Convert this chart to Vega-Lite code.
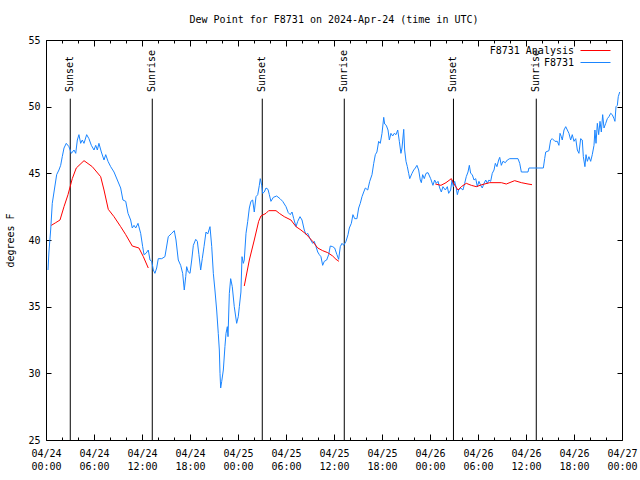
{
  "$schema": "https://vega.github.io/schema/vega-lite/v6.json",
  "width": 576,
  "height": 400,
  "autosize": {"type": "none"},
  "padding": {"left": 46, "top": 40, "right": 18, "bottom": 40},
  "background": "white",
  "title": {"text": "Dew Point for F8731 on 2024-Apr-24 (time in UTC)", "font": "DejaVu Sans Mono", "fontSize": 10, "fontWeight": "normal", "color": "black", "anchor": "middle", "offset": 10},
  "datasets": {
    "obs": [
      {"t": "2024-04-24T00:15Z", "v": 37.75, "s": "F8731", "g": "b"},
      {"t": "2024-04-24T00:22Z", "v": 39.1, "s": "F8731", "g": "b"},
      {"t": "2024-04-24T00:35Z", "v": 40.75, "s": "F8731", "g": "b"},
      {"t": "2024-04-24T00:47Z", "v": 42.75, "s": "F8731", "g": "b"},
      {"t": "2024-04-24T01:00Z", "v": 43.6, "s": "F8731", "g": "b"},
      {"t": "2024-04-24T01:20Z", "v": 44.9, "s": "F8731", "g": "b"},
      {"t": "2024-04-24T01:37Z", "v": 45.25, "s": "F8731", "g": "b"},
      {"t": "2024-04-24T01:50Z", "v": 45.6, "s": "F8731", "g": "b"},
      {"t": "2024-04-24T02:02Z", "v": 46.25, "s": "F8731", "g": "b"},
      {"t": "2024-04-24T02:15Z", "v": 46.9, "s": "F8731", "g": "b"},
      {"t": "2024-04-24T02:32Z", "v": 47.25, "s": "F8731", "g": "b"},
      {"t": "2024-04-24T02:52Z", "v": 47.0, "s": "F8731", "g": "b"},
      {"t": "2024-04-24T03:10Z", "v": 46.5, "s": "F8731", "g": "b"},
      {"t": "2024-04-24T03:30Z", "v": 46.75, "s": "F8731", "g": "b"},
      {"t": "2024-04-24T03:43Z", "v": 46.5, "s": "F8731", "g": "b"},
      {"t": "2024-04-24T03:55Z", "v": 47.5, "s": "F8731", "g": "b"},
      {"t": "2024-04-24T04:07Z", "v": 47.9, "s": "F8731", "g": "b"},
      {"t": "2024-04-24T04:20Z", "v": 47.25, "s": "F8731", "g": "b"},
      {"t": "2024-04-24T04:32Z", "v": 47.5, "s": "F8731", "g": "b"},
      {"t": "2024-04-24T04:45Z", "v": 47.25, "s": "F8731", "g": "b"},
      {"t": "2024-04-24T05:05Z", "v": 47.9, "s": "F8731", "g": "b"},
      {"t": "2024-04-24T05:22Z", "v": 47.6, "s": "F8731", "g": "b"},
      {"t": "2024-04-24T05:40Z", "v": 47.1, "s": "F8731", "g": "b"},
      {"t": "2024-04-24T06:00Z", "v": 46.75, "s": "F8731", "g": "b"},
      {"t": "2024-04-24T06:13Z", "v": 47.1, "s": "F8731", "g": "b"},
      {"t": "2024-04-24T06:25Z", "v": 46.75, "s": "F8731", "g": "b"},
      {"t": "2024-04-24T06:37Z", "v": 47.25, "s": "F8731", "g": "b"},
      {"t": "2024-04-24T06:55Z", "v": 46.6, "s": "F8731", "g": "b"},
      {"t": "2024-04-24T07:15Z", "v": 46.0, "s": "F8731", "g": "b"},
      {"t": "2024-04-24T07:28Z", "v": 46.4, "s": "F8731", "g": "b"},
      {"t": "2024-04-24T07:45Z", "v": 45.9, "s": "F8731", "g": "b"},
      {"t": "2024-04-24T08:05Z", "v": 45.5, "s": "F8731", "g": "b"},
      {"t": "2024-04-24T08:30Z", "v": 45.1, "s": "F8731", "g": "b"},
      {"t": "2024-04-24T08:55Z", "v": 44.5, "s": "F8731", "g": "b"},
      {"t": "2024-04-24T09:20Z", "v": 43.9, "s": "F8731", "g": "b"},
      {"t": "2024-04-24T09:37Z", "v": 43.0, "s": "F8731", "g": "b"},
      {"t": "2024-04-24T09:58Z", "v": 42.9, "s": "F8731", "g": "b"},
      {"t": "2024-04-24T10:15Z", "v": 42.0, "s": "F8731", "g": "b"},
      {"t": "2024-04-24T10:35Z", "v": 41.5, "s": "F8731", "g": "b"},
      {"t": "2024-04-24T10:47Z", "v": 40.9, "s": "F8731", "g": "b"},
      {"t": "2024-04-24T11:00Z", "v": 41.1, "s": "F8731", "g": "b"},
      {"t": "2024-04-24T11:13Z", "v": 40.9, "s": "F8731", "g": "b"},
      {"t": "2024-04-24T11:30Z", "v": 41.25, "s": "F8731", "g": "b"},
      {"t": "2024-04-24T11:50Z", "v": 40.5, "s": "F8731", "g": "b"},
      {"t": "2024-04-24T12:05Z", "v": 39.5, "s": "F8731", "g": "b"},
      {"t": "2024-04-24T12:15Z", "v": 38.9, "s": "F8731", "g": "b"},
      {"t": "2024-04-24T12:30Z", "v": 39.0, "s": "F8731", "g": "b"},
      {"t": "2024-04-24T12:47Z", "v": 39.25, "s": "F8731", "g": "b"},
      {"t": "2024-04-24T13:00Z", "v": 38.5, "s": "F8731", "g": "b"},
      {"t": "2024-04-24T13:13Z", "v": 38.4, "s": "F8731", "g": "b"},
      {"t": "2024-04-24T13:25Z", "v": 37.75, "s": "F8731", "g": "b"},
      {"t": "2024-04-24T13:37Z", "v": 37.5, "s": "F8731", "g": "b"},
      {"t": "2024-04-24T13:50Z", "v": 37.9, "s": "F8731", "g": "b"},
      {"t": "2024-04-24T14:02Z", "v": 38.6, "s": "F8731", "g": "b"},
      {"t": "2024-04-24T14:28Z", "v": 38.6, "s": "F8731", "g": "b"},
      {"t": "2024-04-24T14:52Z", "v": 38.75, "s": "F8731", "g": "b"},
      {"t": "2024-04-24T15:17Z", "v": 40.25, "s": "F8731", "g": "b"},
      {"t": "2024-04-24T15:43Z", "v": 40.5, "s": "F8731", "g": "b"},
      {"t": "2024-04-24T16:02Z", "v": 40.7, "s": "F8731", "g": "b"},
      {"t": "2024-04-24T16:15Z", "v": 40.0, "s": "F8731", "g": "b"},
      {"t": "2024-04-24T16:32Z", "v": 38.5, "s": "F8731", "g": "b"},
      {"t": "2024-04-24T16:50Z", "v": 38.1, "s": "F8731", "g": "b"},
      {"t": "2024-04-24T17:05Z", "v": 37.5, "s": "F8731", "g": "b"},
      {"t": "2024-04-24T17:17Z", "v": 36.25, "s": "F8731", "g": "b"},
      {"t": "2024-04-24T17:28Z", "v": 37.25, "s": "F8731", "g": "b"},
      {"t": "2024-04-24T17:35Z", "v": 38.0, "s": "F8731", "g": "b"},
      {"t": "2024-04-24T17:47Z", "v": 37.6, "s": "F8731", "g": "b"},
      {"t": "2024-04-24T18:00Z", "v": 37.5, "s": "F8731", "g": "b"},
      {"t": "2024-04-24T18:13Z", "v": 38.5, "s": "F8731", "g": "b"},
      {"t": "2024-04-24T18:25Z", "v": 39.6, "s": "F8731", "g": "b"},
      {"t": "2024-04-24T18:43Z", "v": 40.05, "s": "F8731", "g": "b"},
      {"t": "2024-04-24T18:55Z", "v": 39.9, "s": "F8731", "g": "b"},
      {"t": "2024-04-24T19:07Z", "v": 38.9, "s": "F8731", "g": "b"},
      {"t": "2024-04-24T19:20Z", "v": 37.75, "s": "F8731", "g": "b"},
      {"t": "2024-04-24T19:32Z", "v": 38.6, "s": "F8731", "g": "b"},
      {"t": "2024-04-24T19:45Z", "v": 39.5, "s": "F8731", "g": "b"},
      {"t": "2024-04-24T20:00Z", "v": 40.6, "s": "F8731", "g": "b"},
      {"t": "2024-04-24T20:13Z", "v": 40.45, "s": "F8731", "g": "b"},
      {"t": "2024-04-24T20:30Z", "v": 41.0, "s": "F8731", "g": "b"},
      {"t": "2024-04-24T20:43Z", "v": 39.5, "s": "F8731", "g": "b"},
      {"t": "2024-04-24T20:55Z", "v": 37.5, "s": "F8731", "g": "b"},
      {"t": "2024-04-24T21:07Z", "v": 36.25, "s": "F8731", "g": "b"},
      {"t": "2024-04-24T21:20Z", "v": 34.75, "s": "F8731", "g": "b"},
      {"t": "2024-04-24T21:32Z", "v": 33.0, "s": "F8731", "g": "b"},
      {"t": "2024-04-24T21:40Z", "v": 31.75, "s": "F8731", "g": "b"},
      {"t": "2024-04-24T21:45Z", "v": 30.0, "s": "F8731", "g": "b"},
      {"t": "2024-04-24T21:50Z", "v": 28.9, "s": "F8731", "g": "b"},
      {"t": "2024-04-24T21:58Z", "v": 29.4, "s": "F8731", "g": "b"},
      {"t": "2024-04-24T22:10Z", "v": 30.25, "s": "F8731", "g": "b"},
      {"t": "2024-04-24T22:22Z", "v": 32.0, "s": "F8731", "g": "b"},
      {"t": "2024-04-24T22:30Z", "v": 33.0, "s": "F8731", "g": "b"},
      {"t": "2024-04-24T22:40Z", "v": 33.5, "s": "F8731", "g": "b"},
      {"t": "2024-04-24T22:45Z", "v": 32.75, "s": "F8731", "g": "b"},
      {"t": "2024-04-24T22:55Z", "v": 36.0, "s": "F8731", "g": "b"},
      {"t": "2024-04-24T23:05Z", "v": 37.1, "s": "F8731", "g": "b"},
      {"t": "2024-04-24T23:17Z", "v": 36.5, "s": "F8731", "g": "b"},
      {"t": "2024-04-24T23:32Z", "v": 35.0, "s": "F8731", "g": "b"},
      {"t": "2024-04-24T23:50Z", "v": 33.75, "s": "F8731", "g": "b"},
      {"t": "2024-04-25T00:02Z", "v": 34.25, "s": "F8731", "g": "b"},
      {"t": "2024-04-25T00:10Z", "v": 35.0, "s": "F8731", "g": "b"},
      {"t": "2024-04-25T00:22Z", "v": 36.1, "s": "F8731", "g": "b"},
      {"t": "2024-04-25T00:30Z", "v": 38.75, "s": "F8731", "g": "b"},
      {"t": "2024-04-25T00:40Z", "v": 38.25, "s": "F8731", "g": "b"},
      {"t": "2024-04-25T00:47Z", "v": 38.5, "s": "F8731", "g": "b"},
      {"t": "2024-04-25T01:00Z", "v": 40.5, "s": "F8731", "g": "b"},
      {"t": "2024-04-25T01:13Z", "v": 41.4, "s": "F8731", "g": "b"},
      {"t": "2024-04-25T01:25Z", "v": 42.4, "s": "F8731", "g": "b"},
      {"t": "2024-04-25T01:37Z", "v": 42.9, "s": "F8731", "g": "b"},
      {"t": "2024-04-25T01:50Z", "v": 43.0, "s": "F8731", "g": "b"},
      {"t": "2024-04-25T02:02Z", "v": 42.1, "s": "F8731", "g": "b"},
      {"t": "2024-04-25T02:15Z", "v": 43.25, "s": "F8731", "g": "b"},
      {"t": "2024-04-25T02:28Z", "v": 43.4, "s": "F8731", "g": "b"},
      {"t": "2024-04-25T02:40Z", "v": 44.1, "s": "F8731", "g": "b"},
      {"t": "2024-04-25T02:47Z", "v": 44.6, "s": "F8731", "g": "b"},
      {"t": "2024-04-25T02:58Z", "v": 44.1, "s": "F8731", "g": "b"},
      {"t": "2024-04-25T03:05Z", "v": 43.5, "s": "F8731", "g": "b"},
      {"t": "2024-04-25T03:17Z", "v": 43.6, "s": "F8731", "g": "b"},
      {"t": "2024-04-25T03:30Z", "v": 43.9, "s": "F8731", "g": "b"},
      {"t": "2024-04-25T03:45Z", "v": 43.8, "s": "F8731", "g": "b"},
      {"t": "2024-04-25T03:55Z", "v": 43.4, "s": "F8731", "g": "b"},
      {"t": "2024-04-25T04:07Z", "v": 42.9, "s": "F8731", "g": "b"},
      {"t": "2024-04-25T04:25Z", "v": 43.2, "s": "F8731", "g": "b"},
      {"t": "2024-04-25T04:50Z", "v": 43.3, "s": "F8731", "g": "b"},
      {"t": "2024-04-25T05:15Z", "v": 43.1, "s": "F8731", "g": "b"},
      {"t": "2024-04-25T05:35Z", "v": 42.9, "s": "F8731", "g": "b"},
      {"t": "2024-04-25T06:00Z", "v": 42.5, "s": "F8731", "g": "b"},
      {"t": "2024-04-25T06:17Z", "v": 42.05, "s": "F8731", "g": "b"},
      {"t": "2024-04-25T06:32Z", "v": 41.9, "s": "F8731", "g": "b"},
      {"t": "2024-04-25T06:45Z", "v": 42.1, "s": "F8731", "g": "b"},
      {"t": "2024-04-25T06:58Z", "v": 41.6, "s": "F8731", "g": "b"},
      {"t": "2024-04-25T07:15Z", "v": 41.0, "s": "F8731", "g": "b"},
      {"t": "2024-04-25T07:28Z", "v": 41.4, "s": "F8731", "g": "b"},
      {"t": "2024-04-25T07:45Z", "v": 41.75, "s": "F8731", "g": "b"},
      {"t": "2024-04-25T08:00Z", "v": 41.5, "s": "F8731", "g": "b"},
      {"t": "2024-04-25T08:17Z", "v": 40.75, "s": "F8731", "g": "b"},
      {"t": "2024-04-25T08:30Z", "v": 40.4, "s": "F8731", "g": "b"},
      {"t": "2024-04-25T08:43Z", "v": 40.5, "s": "F8731", "g": "b"},
      {"t": "2024-04-25T09:00Z", "v": 40.1, "s": "F8731", "g": "b"},
      {"t": "2024-04-25T09:20Z", "v": 39.75, "s": "F8731", "g": "b"},
      {"t": "2024-04-25T09:32Z", "v": 39.9, "s": "F8731", "g": "b"},
      {"t": "2024-04-25T09:45Z", "v": 39.5, "s": "F8731", "g": "b"},
      {"t": "2024-04-25T09:58Z", "v": 39.1, "s": "F8731", "g": "b"},
      {"t": "2024-04-25T10:10Z", "v": 38.9, "s": "F8731", "g": "b"},
      {"t": "2024-04-25T10:22Z", "v": 38.75, "s": "F8731", "g": "b"},
      {"t": "2024-04-25T10:35Z", "v": 38.1, "s": "F8731", "g": "b"},
      {"t": "2024-04-25T10:47Z", "v": 38.4, "s": "F8731", "g": "b"},
      {"t": "2024-04-25T11:05Z", "v": 38.5, "s": "F8731", "g": "b"},
      {"t": "2024-04-25T11:20Z", "v": 38.9, "s": "F8731", "g": "b"},
      {"t": "2024-04-25T11:32Z", "v": 39.55, "s": "F8731", "g": "b"},
      {"t": "2024-04-25T11:50Z", "v": 39.5, "s": "F8731", "g": "b"},
      {"t": "2024-04-25T12:05Z", "v": 39.4, "s": "F8731", "g": "b"},
      {"t": "2024-04-25T12:22Z", "v": 38.9, "s": "F8731", "g": "b"},
      {"t": "2024-04-25T12:35Z", "v": 38.55, "s": "F8731", "g": "b"},
      {"t": "2024-04-25T12:47Z", "v": 39.5, "s": "F8731", "g": "b"},
      {"t": "2024-04-25T13:00Z", "v": 39.75, "s": "F8731", "g": "b"},
      {"t": "2024-04-25T13:13Z", "v": 39.6, "s": "F8731", "g": "b"},
      {"t": "2024-04-25T13:30Z", "v": 39.9, "s": "F8731", "g": "b"},
      {"t": "2024-04-25T13:45Z", "v": 40.4, "s": "F8731", "g": "b"},
      {"t": "2024-04-25T13:55Z", "v": 40.9, "s": "F8731", "g": "b"},
      {"t": "2024-04-25T14:10Z", "v": 41.25, "s": "F8731", "g": "b"},
      {"t": "2024-04-25T14:22Z", "v": 41.9, "s": "F8731", "g": "b"},
      {"t": "2024-04-25T14:35Z", "v": 41.6, "s": "F8731", "g": "b"},
      {"t": "2024-04-25T14:52Z", "v": 41.6, "s": "F8731", "g": "b"},
      {"t": "2024-04-25T15:05Z", "v": 42.4, "s": "F8731", "g": "b"},
      {"t": "2024-04-25T15:17Z", "v": 42.75, "s": "F8731", "g": "b"},
      {"t": "2024-04-25T15:30Z", "v": 43.25, "s": "F8731", "g": "b"},
      {"t": "2024-04-25T15:43Z", "v": 43.6, "s": "F8731", "g": "b"},
      {"t": "2024-04-25T15:55Z", "v": 43.9, "s": "F8731", "g": "b"},
      {"t": "2024-04-25T16:13Z", "v": 43.75, "s": "F8731", "g": "b"},
      {"t": "2024-04-25T16:28Z", "v": 44.4, "s": "F8731", "g": "b"},
      {"t": "2024-04-25T16:45Z", "v": 44.9, "s": "F8731", "g": "b"},
      {"t": "2024-04-25T16:58Z", "v": 45.75, "s": "F8731", "g": "b"},
      {"t": "2024-04-25T17:10Z", "v": 46.4, "s": "F8731", "g": "b"},
      {"t": "2024-04-25T17:22Z", "v": 46.6, "s": "F8731", "g": "b"},
      {"t": "2024-04-25T17:35Z", "v": 47.4, "s": "F8731", "g": "b"},
      {"t": "2024-04-25T17:47Z", "v": 47.25, "s": "F8731", "g": "b"},
      {"t": "2024-04-25T18:00Z", "v": 48.0, "s": "F8731", "g": "b"},
      {"t": "2024-04-25T18:13Z", "v": 49.2, "s": "F8731", "g": "b"},
      {"t": "2024-04-25T18:20Z", "v": 48.7, "s": "F8731", "g": "b"},
      {"t": "2024-04-25T18:32Z", "v": 48.6, "s": "F8731", "g": "b"},
      {"t": "2024-04-25T18:45Z", "v": 48.25, "s": "F8731", "g": "b"},
      {"t": "2024-04-25T18:55Z", "v": 47.5, "s": "F8731", "g": "b"},
      {"t": "2024-04-25T19:07Z", "v": 48.0, "s": "F8731", "g": "b"},
      {"t": "2024-04-25T19:20Z", "v": 47.8, "s": "F8731", "g": "b"},
      {"t": "2024-04-25T19:32Z", "v": 48.0, "s": "F8731", "g": "b"},
      {"t": "2024-04-25T19:45Z", "v": 47.9, "s": "F8731", "g": "b"},
      {"t": "2024-04-25T19:58Z", "v": 48.25, "s": "F8731", "g": "b"},
      {"t": "2024-04-25T20:10Z", "v": 47.4, "s": "F8731", "g": "b"},
      {"t": "2024-04-25T20:22Z", "v": 46.5, "s": "F8731", "g": "b"},
      {"t": "2024-04-25T20:30Z", "v": 46.9, "s": "F8731", "g": "b"},
      {"t": "2024-04-25T20:43Z", "v": 48.3, "s": "F8731", "g": "b"},
      {"t": "2024-04-25T20:50Z", "v": 46.75, "s": "F8731", "g": "b"},
      {"t": "2024-04-25T21:00Z", "v": 45.9, "s": "F8731", "g": "b"},
      {"t": "2024-04-25T21:10Z", "v": 45.5, "s": "F8731", "g": "b"},
      {"t": "2024-04-25T21:20Z", "v": 45.0, "s": "F8731", "g": "b"},
      {"t": "2024-04-25T21:28Z", "v": 44.6, "s": "F8731", "g": "b"},
      {"t": "2024-04-25T21:45Z", "v": 45.0, "s": "F8731", "g": "b"},
      {"t": "2024-04-25T21:58Z", "v": 45.25, "s": "F8731", "g": "b"},
      {"t": "2024-04-25T22:10Z", "v": 45.4, "s": "F8731", "g": "b"},
      {"t": "2024-04-25T22:22Z", "v": 45.6, "s": "F8731", "g": "b"},
      {"t": "2024-04-25T22:35Z", "v": 45.25, "s": "F8731", "g": "b"},
      {"t": "2024-04-25T22:47Z", "v": 44.5, "s": "F8731", "g": "b"},
      {"t": "2024-04-25T22:55Z", "v": 44.3, "s": "F8731", "g": "b"},
      {"t": "2024-04-25T23:05Z", "v": 44.9, "s": "F8731", "g": "b"},
      {"t": "2024-04-25T23:17Z", "v": 44.6, "s": "F8731", "g": "b"},
      {"t": "2024-04-25T23:30Z", "v": 45.0, "s": "F8731", "g": "b"},
      {"t": "2024-04-25T23:45Z", "v": 45.05, "s": "F8731", "g": "b"},
      {"t": "2024-04-26T00:05Z", "v": 44.6, "s": "F8731", "g": "b"},
      {"t": "2024-04-26T00:22Z", "v": 44.1, "s": "F8731", "g": "b"},
      {"t": "2024-04-26T00:35Z", "v": 44.5, "s": "F8731", "g": "b"},
      {"t": "2024-04-26T00:47Z", "v": 44.25, "s": "F8731", "g": "b"},
      {"t": "2024-04-26T01:00Z", "v": 44.4, "s": "F8731", "g": "b"},
      {"t": "2024-04-26T01:13Z", "v": 43.9, "s": "F8731", "g": "b"},
      {"t": "2024-04-26T01:25Z", "v": 43.6, "s": "F8731", "g": "b"},
      {"t": "2024-04-26T01:37Z", "v": 44.0, "s": "F8731", "g": "b"},
      {"t": "2024-04-26T01:55Z", "v": 43.75, "s": "F8731", "g": "b"},
      {"t": "2024-04-26T02:10Z", "v": 44.0, "s": "F8731", "g": "b"},
      {"t": "2024-04-26T02:20Z", "v": 43.5, "s": "F8731", "g": "b"},
      {"t": "2024-04-26T02:35Z", "v": 43.75, "s": "F8731", "g": "b"},
      {"t": "2024-04-26T02:45Z", "v": 44.5, "s": "F8731", "g": "b"},
      {"t": "2024-04-26T02:55Z", "v": 44.0, "s": "F8731", "g": "b"},
      {"t": "2024-04-26T03:05Z", "v": 44.4, "s": "F8731", "g": "b"},
      {"t": "2024-04-26T03:17Z", "v": 43.9, "s": "F8731", "g": "b"},
      {"t": "2024-04-26T03:25Z", "v": 43.4, "s": "F8731", "g": "b"},
      {"t": "2024-04-26T03:35Z", "v": 43.75, "s": "F8731", "g": "b"},
      {"t": "2024-04-26T03:50Z", "v": 43.9, "s": "F8731", "g": "b"},
      {"t": "2024-04-26T04:07Z", "v": 43.75, "s": "F8731", "g": "b"},
      {"t": "2024-04-26T04:20Z", "v": 44.25, "s": "F8731", "g": "b"},
      {"t": "2024-04-26T04:32Z", "v": 44.75, "s": "F8731", "g": "b"},
      {"t": "2024-04-26T04:45Z", "v": 45.1, "s": "F8731", "g": "b"},
      {"t": "2024-04-26T04:55Z", "v": 45.6, "s": "F8731", "g": "b"},
      {"t": "2024-04-26T05:05Z", "v": 45.0, "s": "F8731", "g": "b"},
      {"t": "2024-04-26T05:17Z", "v": 44.9, "s": "F8731", "g": "b"},
      {"t": "2024-04-26T05:30Z", "v": 44.5, "s": "F8731", "g": "b"},
      {"t": "2024-04-26T05:43Z", "v": 44.6, "s": "F8731", "g": "b"},
      {"t": "2024-04-26T05:55Z", "v": 44.0, "s": "F8731", "g": "b"},
      {"t": "2024-04-26T06:07Z", "v": 44.4, "s": "F8731", "g": "b"},
      {"t": "2024-04-26T06:20Z", "v": 44.1, "s": "F8731", "g": "b"},
      {"t": "2024-04-26T06:32Z", "v": 43.9, "s": "F8731", "g": "b"},
      {"t": "2024-04-26T06:45Z", "v": 44.25, "s": "F8731", "g": "b"},
      {"t": "2024-04-26T06:58Z", "v": 44.5, "s": "F8731", "g": "b"},
      {"t": "2024-04-26T07:10Z", "v": 44.25, "s": "F8731", "g": "b"},
      {"t": "2024-04-26T07:22Z", "v": 44.5, "s": "F8731", "g": "b"},
      {"t": "2024-04-26T07:35Z", "v": 44.4, "s": "F8731", "g": "b"},
      {"t": "2024-04-26T07:47Z", "v": 45.0, "s": "F8731", "g": "b"},
      {"t": "2024-04-26T08:00Z", "v": 45.25, "s": "F8731", "g": "b"},
      {"t": "2024-04-26T08:10Z", "v": 45.75, "s": "F8731", "g": "b"},
      {"t": "2024-04-26T08:22Z", "v": 45.5, "s": "F8731", "g": "b"},
      {"t": "2024-04-26T08:35Z", "v": 46.0, "s": "F8731", "g": "b"},
      {"t": "2024-04-26T08:43Z", "v": 46.2, "s": "F8731", "g": "b"},
      {"t": "2024-04-26T08:55Z", "v": 45.6, "s": "F8731", "g": "b"},
      {"t": "2024-04-26T09:07Z", "v": 45.9, "s": "F8731", "g": "b"},
      {"t": "2024-04-26T09:25Z", "v": 45.8, "s": "F8731", "g": "b"},
      {"t": "2024-04-26T09:40Z", "v": 46.0, "s": "F8731", "g": "b"},
      {"t": "2024-04-26T09:58Z", "v": 46.1, "s": "F8731", "g": "b"},
      {"t": "2024-04-26T11:00Z", "v": 46.1, "s": "F8731", "g": "b"},
      {"t": "2024-04-26T11:13Z", "v": 45.75, "s": "F8731", "g": "b"},
      {"t": "2024-04-26T11:25Z", "v": 45.1, "s": "F8731", "g": "b"},
      {"t": "2024-04-26T12:15Z", "v": 45.1, "s": "F8731", "g": "b"},
      {"t": "2024-04-26T12:22Z", "v": 45.4, "s": "F8731", "g": "b"},
      {"t": "2024-04-26T14:10Z", "v": 45.4, "s": "F8731", "g": "b"},
      {"t": "2024-04-26T14:20Z", "v": 46.1, "s": "F8731", "g": "b"},
      {"t": "2024-04-26T14:28Z", "v": 46.6, "s": "F8731", "g": "b"},
      {"t": "2024-04-26T14:52Z", "v": 46.7, "s": "F8731", "g": "b"},
      {"t": "2024-04-26T15:05Z", "v": 47.5, "s": "F8731", "g": "b"},
      {"t": "2024-04-26T15:17Z", "v": 47.6, "s": "F8731", "g": "b"},
      {"t": "2024-04-26T15:37Z", "v": 47.4, "s": "F8731", "g": "b"},
      {"t": "2024-04-26T15:55Z", "v": 47.4, "s": "F8731", "g": "b"},
      {"t": "2024-04-26T16:07Z", "v": 47.1, "s": "F8731", "g": "b"},
      {"t": "2024-04-26T16:15Z", "v": 48.0, "s": "F8731", "g": "b"},
      {"t": "2024-04-26T16:25Z", "v": 47.75, "s": "F8731", "g": "b"},
      {"t": "2024-04-26T16:32Z", "v": 47.5, "s": "F8731", "g": "b"},
      {"t": "2024-04-26T16:45Z", "v": 48.25, "s": "F8731", "g": "b"},
      {"t": "2024-04-26T16:58Z", "v": 48.5, "s": "F8731", "g": "b"},
      {"t": "2024-04-26T17:10Z", "v": 48.25, "s": "F8731", "g": "b"},
      {"t": "2024-04-26T17:22Z", "v": 48.0, "s": "F8731", "g": "b"},
      {"t": "2024-04-26T17:35Z", "v": 47.5, "s": "F8731", "g": "b"},
      {"t": "2024-04-26T17:47Z", "v": 47.9, "s": "F8731", "g": "b"},
      {"t": "2024-04-26T18:00Z", "v": 47.4, "s": "F8731", "g": "b"},
      {"t": "2024-04-26T18:13Z", "v": 47.6, "s": "F8731", "g": "b"},
      {"t": "2024-04-26T18:25Z", "v": 46.75, "s": "F8731", "g": "b"},
      {"t": "2024-04-26T18:37Z", "v": 46.5, "s": "F8731", "g": "b"},
      {"t": "2024-04-26T18:50Z", "v": 47.6, "s": "F8731", "g": "b"},
      {"t": "2024-04-26T19:02Z", "v": 47.5, "s": "F8731", "g": "b"},
      {"t": "2024-04-26T19:10Z", "v": 46.25, "s": "F8731", "g": "b"},
      {"t": "2024-04-26T19:22Z", "v": 45.5, "s": "F8731", "g": "b"},
      {"t": "2024-04-26T19:30Z", "v": 46.4, "s": "F8731", "g": "b"},
      {"t": "2024-04-26T19:40Z", "v": 45.9, "s": "F8731", "g": "b"},
      {"t": "2024-04-26T19:52Z", "v": 46.25, "s": "F8731", "g": "b"},
      {"t": "2024-04-26T20:05Z", "v": 45.9, "s": "F8731", "g": "b"},
      {"t": "2024-04-26T20:17Z", "v": 46.4, "s": "F8731", "g": "b"},
      {"t": "2024-04-26T20:30Z", "v": 47.1, "s": "F8731", "g": "b"},
      {"t": "2024-04-26T20:37Z", "v": 48.25, "s": "F8731", "g": "b"},
      {"t": "2024-04-26T20:45Z", "v": 47.25, "s": "F8731", "g": "b"},
      {"t": "2024-04-26T20:55Z", "v": 48.75, "s": "F8731", "g": "b"},
      {"t": "2024-04-26T21:05Z", "v": 47.9, "s": "F8731", "g": "b"},
      {"t": "2024-04-26T21:15Z", "v": 48.9, "s": "F8731", "g": "b"},
      {"t": "2024-04-26T21:25Z", "v": 48.1, "s": "F8731", "g": "b"},
      {"t": "2024-04-26T21:35Z", "v": 49.4, "s": "F8731", "g": "b"},
      {"t": "2024-04-26T21:45Z", "v": 48.4, "s": "F8731", "g": "b"},
      {"t": "2024-04-26T21:58Z", "v": 48.75, "s": "F8731", "g": "b"},
      {"t": "2024-04-26T22:10Z", "v": 49.1, "s": "F8731", "g": "b"},
      {"t": "2024-04-26T22:22Z", "v": 49.25, "s": "F8731", "g": "b"},
      {"t": "2024-04-26T22:35Z", "v": 49.5, "s": "F8731", "g": "b"},
      {"t": "2024-04-26T22:47Z", "v": 49.4, "s": "F8731", "g": "b"},
      {"t": "2024-04-26T23:00Z", "v": 49.1, "s": "F8731", "g": "b"},
      {"t": "2024-04-26T23:07Z", "v": 48.9, "s": "F8731", "g": "b"},
      {"t": "2024-04-26T23:15Z", "v": 50.0, "s": "F8731", "g": "b"},
      {"t": "2024-04-26T23:25Z", "v": 50.1, "s": "F8731", "g": "b"},
      {"t": "2024-04-26T23:32Z", "v": 50.75, "s": "F8731", "g": "b"},
      {"t": "2024-04-26T23:43Z", "v": 51.1, "s": "F8731", "g": "b"},
      {"t": "2024-04-24T00:40Z", "v": 41.1, "s": "F8731 Analysis", "g": "a1"},
      {"t": "2024-04-24T01:13Z", "v": 41.3, "s": "F8731 Analysis", "g": "a1"},
      {"t": "2024-04-24T01:45Z", "v": 41.5, "s": "F8731 Analysis", "g": "a1"},
      {"t": "2024-04-24T02:15Z", "v": 42.5, "s": "F8731 Analysis", "g": "a1"},
      {"t": "2024-04-24T02:45Z", "v": 43.4, "s": "F8731 Analysis", "g": "a1"},
      {"t": "2024-04-24T03:17Z", "v": 44.6, "s": "F8731 Analysis", "g": "a1"},
      {"t": "2024-04-24T03:47Z", "v": 45.4, "s": "F8731 Analysis", "g": "a1"},
      {"t": "2024-04-24T04:45Z", "v": 45.95, "s": "F8731 Analysis", "g": "a1"},
      {"t": "2024-04-24T05:47Z", "v": 45.5, "s": "F8731 Analysis", "g": "a1"},
      {"t": "2024-04-24T06:50Z", "v": 44.75, "s": "F8731 Analysis", "g": "a1"},
      {"t": "2024-04-24T07:15Z", "v": 43.75, "s": "F8731 Analysis", "g": "a1"},
      {"t": "2024-04-24T07:47Z", "v": 42.3, "s": "F8731 Analysis", "g": "a1"},
      {"t": "2024-04-24T08:30Z", "v": 41.75, "s": "F8731 Analysis", "g": "a1"},
      {"t": "2024-04-24T09:20Z", "v": 41.0, "s": "F8731 Analysis", "g": "a1"},
      {"t": "2024-04-24T09:58Z", "v": 40.4, "s": "F8731 Analysis", "g": "a1"},
      {"t": "2024-04-24T10:47Z", "v": 39.55, "s": "F8731 Analysis", "g": "a1"},
      {"t": "2024-04-24T11:37Z", "v": 39.4, "s": "F8731 Analysis", "g": "a1"},
      {"t": "2024-04-24T12:10Z", "v": 38.75, "s": "F8731 Analysis", "g": "a1"},
      {"t": "2024-04-24T12:47Z", "v": 37.9, "s": "F8731 Analysis", "g": "a1"},
      {"t": "2024-04-25T00:47Z", "v": 36.55, "s": "F8731 Analysis", "g": "a2"},
      {"t": "2024-04-25T01:25Z", "v": 38.5, "s": "F8731 Analysis", "g": "a2"},
      {"t": "2024-04-25T02:02Z", "v": 40.0, "s": "F8731 Analysis", "g": "a2"},
      {"t": "2024-04-25T02:35Z", "v": 41.4, "s": "F8731 Analysis", "g": "a2"},
      {"t": "2024-04-25T02:52Z", "v": 41.8, "s": "F8731 Analysis", "g": "a2"},
      {"t": "2024-04-25T03:30Z", "v": 42.0, "s": "F8731 Analysis", "g": "a2"},
      {"t": "2024-04-25T03:50Z", "v": 42.2, "s": "F8731 Analysis", "g": "a2"},
      {"t": "2024-04-25T04:45Z", "v": 42.2, "s": "F8731 Analysis", "g": "a2"},
      {"t": "2024-04-25T05:10Z", "v": 42.0, "s": "F8731 Analysis", "g": "a2"},
      {"t": "2024-04-25T05:47Z", "v": 41.75, "s": "F8731 Analysis", "g": "a2"},
      {"t": "2024-04-25T06:37Z", "v": 41.5, "s": "F8731 Analysis", "g": "a2"},
      {"t": "2024-04-25T07:15Z", "v": 41.0, "s": "F8731 Analysis", "g": "a2"},
      {"t": "2024-04-25T07:52Z", "v": 40.75, "s": "F8731 Analysis", "g": "a2"},
      {"t": "2024-04-25T08:30Z", "v": 40.45, "s": "F8731 Analysis", "g": "a2"},
      {"t": "2024-04-25T09:20Z", "v": 39.9, "s": "F8731 Analysis", "g": "a2"},
      {"t": "2024-04-25T09:58Z", "v": 39.4, "s": "F8731 Analysis", "g": "a2"},
      {"t": "2024-04-25T10:35Z", "v": 39.2, "s": "F8731 Analysis", "g": "a2"},
      {"t": "2024-04-25T11:13Z", "v": 39.05, "s": "F8731 Analysis", "g": "a2"},
      {"t": "2024-04-25T11:50Z", "v": 38.8, "s": "F8731 Analysis", "g": "a2"},
      {"t": "2024-04-25T12:15Z", "v": 38.55, "s": "F8731 Analysis", "g": "a2"},
      {"t": "2024-04-25T12:37Z", "v": 38.4, "s": "F8731 Analysis", "g": "a2"},
      {"t": "2024-04-26T00:40Z", "v": 44.2, "s": "F8731 Analysis", "g": "a3"},
      {"t": "2024-04-26T01:22Z", "v": 44.1, "s": "F8731 Analysis", "g": "a3"},
      {"t": "2024-04-26T02:00Z", "v": 44.3, "s": "F8731 Analysis", "g": "a3"},
      {"t": "2024-04-26T02:40Z", "v": 44.6, "s": "F8731 Analysis", "g": "a3"},
      {"t": "2024-04-26T03:00Z", "v": 44.2, "s": "F8731 Analysis", "g": "a3"},
      {"t": "2024-04-26T03:30Z", "v": 43.75, "s": "F8731 Analysis", "g": "a3"},
      {"t": "2024-04-26T03:55Z", "v": 44.0, "s": "F8731 Analysis", "g": "a3"},
      {"t": "2024-04-26T04:32Z", "v": 44.25, "s": "F8731 Analysis", "g": "a3"},
      {"t": "2024-04-26T05:10Z", "v": 44.1, "s": "F8731 Analysis", "g": "a3"},
      {"t": "2024-04-26T05:47Z", "v": 44.0, "s": "F8731 Analysis", "g": "a3"},
      {"t": "2024-04-26T06:30Z", "v": 44.15, "s": "F8731 Analysis", "g": "a3"},
      {"t": "2024-04-26T07:28Z", "v": 44.3, "s": "F8731 Analysis", "g": "a3"},
      {"t": "2024-04-26T08:55Z", "v": 44.3, "s": "F8731 Analysis", "g": "a3"},
      {"t": "2024-04-26T09:32Z", "v": 44.2, "s": "F8731 Analysis", "g": "a3"},
      {"t": "2024-04-26T10:35Z", "v": 44.45, "s": "F8731 Analysis", "g": "a3"},
      {"t": "2024-04-26T11:25Z", "v": 44.3, "s": "F8731 Analysis", "g": "a3"},
      {"t": "2024-04-26T12:15Z", "v": 44.2, "s": "F8731 Analysis", "g": "a3"},
      {"t": "2024-04-26T12:45Z", "v": 44.15, "s": "F8731 Analysis", "g": "a3"}
    ],
    "events": [
      {"t": "2024-04-24T03:02Z", "label": "Sunset"},
      {"t": "2024-04-24T13:17Z", "label": "Sunrise"},
      {"t": "2024-04-25T03:02Z", "label": "Sunset"},
      {"t": "2024-04-25T13:17Z", "label": "Sunrise"},
      {"t": "2024-04-26T02:56Z", "label": "Sunset"},
      {"t": "2024-04-26T13:17Z", "label": "Sunrise"}
    ]
  },
  "layer": [
    {
      "data": {"name": "events"},
      "mark": {"type": "rule", "color": "black", "strokeWidth": 1},
      "encoding": {
        "x": {"field": "t", "type": "temporal",
          "axis": {"orient": "top", "labels": false, "domain": false,
            "values": [1713916800000,1713924000000,1713931200000,1713938400000,1713945600000,1713952800000,1713960000000,1713967200000,1713974400000,1713981600000,1713988800000,1713996000000,1714003200000,1714010400000,1714017600000,1714024800000,1714032000000,1714039200000,1714046400000,1714053600000,1714060800000,1714068000000,1714075200000,1714082400000,1714089600000,1714096800000,1714104000000,1714111200000,1714118400000,1714125600000,1714132800000,1714140000000,1714147200000,1714154400000,1714161600000,1714168800000,1714176000000],
            "tickSize": {"condition": {"test": "utchours(datum.value) % 6 == 0", "value": -6}, "value": -3},
            "title": null}},
        "y": {"datum": 50.6, "type": "quantitative", "axis": {"orient": "right", "labels": false, "domain": false, "values": [25, 30, 35, 40, 45, 50, 55], "tickSize": -5, "title": null}},
        "y2": {"datum": 25}
      }
    },
    {
      "data": {"name": "events"},
      "mark": {"type": "text", "angle": 270, "align": "left", "baseline": "middle", "font": "DejaVu Sans Mono", "fontSize": 10, "color": "black", "dx": 0},
      "encoding": {
        "x": {"field": "t", "type": "temporal", "axis": null},
        "y": {"datum": 51.1, "type": "quantitative", "axis": null},
        "text": {"field": "label"}
      }
    },
    {
      "data": {"name": "obs"},
      "mark": {"type": "line", "strokeWidth": 1},
      "encoding": {
        "x": {"field": "t", "type": "temporal",
          "scale": {"type": "utc", "domain": [1713916800000, 1714176000000]},
          "axis": {"orient": "bottom", "domain": false, "labelOverlap": false,
            "values": [1713916800000,1713924000000,1713931200000,1713938400000,1713945600000,1713952800000,1713960000000,1713967200000,1713974400000,1713981600000,1713988800000,1713996000000,1714003200000,1714010400000,1714017600000,1714024800000,1714032000000,1714039200000,1714046400000,1714053600000,1714060800000,1714068000000,1714075200000,1714082400000,1714089600000,1714096800000,1714104000000,1714111200000,1714118400000,1714125600000,1714132800000,1714140000000,1714147200000,1714154400000,1714161600000,1714168800000,1714176000000],
            "tickSize": {"condition": {"test": "utchours(datum.value) % 6 == 0", "value": -6}, "value": -3},
            "labelExpr": "utchours(datum.value) % 6 == 0 ? [utcFormat(datum.value, '%m/%d'), utcFormat(datum.value, '%H:%M')] : ''",
            "labelPadding": 14, "labelLineHeight": 13, "labelFlush": false,
            "title": null}},
        "y": {"field": "v", "type": "quantitative",
          "scale": {"domain": [25, 55], "nice": false, "zero": false},
          "axis": {"orient": "left", "domain": false, "values": [25, 30, 35, 40, 45, 50, 55], "tickSize": -5, "labelPadding": 11, "title": "degrees F", "titlePadding": 12}},
        "color": {"field": "s", "type": "nominal",
          "scale": {"domain": ["F8731 Analysis", "F8731"], "range": ["#ff0000", "#1a85ff"]},
          "legend": {"title": null, "orient": "none", "legendX": 544, "legendY": 5, "padding": 0, "symbolType": "M-3,0H3", "symbolSize": 100, "symbolStrokeWidth": 1, "labelAlign": "right", "labelOffset": -27, "labelFont": "DejaVu Sans Mono", "labelFontSize": 10, "labelColor": "black", "rowPadding": 1}},
        "detail": {"field": "g", "type": "nominal"}
      }
    }
  ],
  "resolve": {"axis": {"x": "independent", "y": "independent"}},
  "config": {
    "font": "DejaVu Sans Mono",
    "view": {"stroke": "black", "strokeWidth": 1},
    "axis": {"labelFont": "DejaVu Sans Mono", "labelFontSize": 10, "labelColor": "black", "titleFont": "DejaVu Sans Mono", "titleFontSize": 10, "titleFontWeight": "normal", "titleColor": "black", "tickColor": "black", "grid": false}
  }
}
